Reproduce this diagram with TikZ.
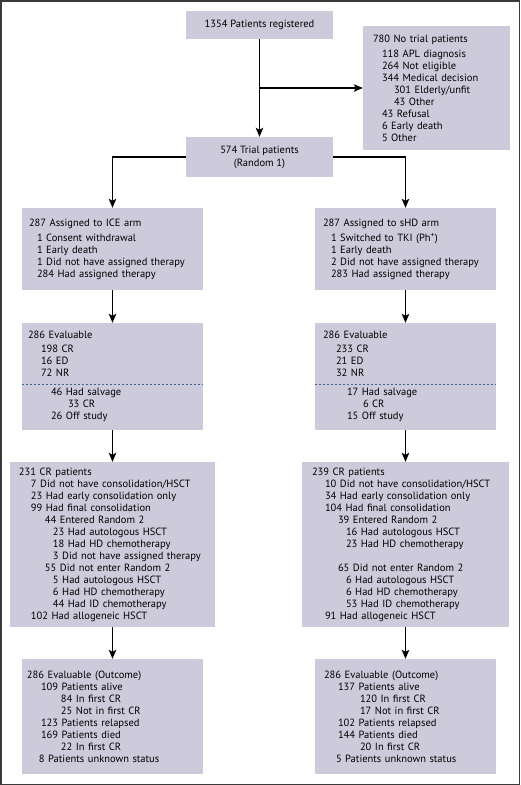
\documentclass[tikz,border=0pt]{standalone}
\usepackage{fontspec}
\setmainfont{PT Sans}
\usetikzlibrary{
  arrows.meta,
  positioning,
  calc
}
\definecolor{boxfill}{HTML}{CCCADB}
\definecolor{dashblue}{HTML}{3E6590}
\definecolor{framegray}{HTML}{3A3A3A}
\newcommand{\ind}[1]{\hspace*{#1pt}}
\hyphenpenalty=10000

\begin{document}
\begin{tikzpicture}[
  x=1pt, y=-1pt,
  flowbox/.style={fill=boxfill, align=left, inner ysep=0pt,
    font=\fontsize{10.5}{12}\selectfont},
  flowline/.style={draw=black, line width=1.2pt,
    -{Stealth[length=9pt, width=7.5pt, inset=2pt]}},
  dashsep/.style={draw=dashblue, line width=0.6pt, dash pattern=on 2.5pt off 1.5pt}
]
  \useasboundingbox (0,0) rectangle (520,785);
  \draw[framegray, line width=1.5pt] (0.75,0.75) rectangle (519.25,784.25);

  \node[flowbox, align=center, minimum width=147pt, minimum height=28pt] (reg) at (259.5,25)
    {1354 Patients registered};
  \node[flowbox, text width=127pt, inner xsep=10pt, minimum height=124pt] (notrial) at (436.5,88)
    {780 No trial patients\\[3pt]
     \ind{9}118 APL diagnosis\\ \ind{9}264 Not eligible\\ \ind{9}344 Medical decision\\
     \ind{21}301 Elderly/unfit\\ \ind{21}43 Other\\ \ind{9}43 Refusal\\
     \ind{9}6 Early death\\ \ind{9}5 Other};
  \node[flowbox, align=center, minimum width=147pt, minimum height=40pt] (trial) at (259.5,157)
    {574 Trial patients\\[1pt](Random 1)};

  \node[flowbox, text width=167pt, inner xsep=7pt, minimum height=82pt] (ice) at (112.5,249)
    {287 Assigned to ICE arm\\[3pt]
     \ind{8}1 Consent withdrawal\\ \ind{8}1 Early death\\
     \ind{8}1 Did not have assigned therapy\\ \ind{8}284 Had assigned therapy};
  \node[flowbox, text width=165pt, inner xsep=8pt, minimum height=82pt] (shd) at (405.5,249)
    {287 Assigned to sHD arm\\[3pt]
     \ind{8}1 Switched to TKI (Ph\textsuperscript{+})\\ \ind{8}1 Early death\\
     \ind{8}2 Did not have assigned therapy\\ \ind{8}283 Had assigned therapy};

  \node[flowbox, text width=169pt, inner xsep=6pt, minimum height=107pt] (evalice) at (112.5,376.5)
    {286 Evaluable\\[2pt]
     \ind{13}198 CR\\ \ind{13}16 ED\\ \ind{13}72 NR\\[7pt]
     \ind{23}46 Had salvage\\ \ind{40}33 CR\\ \ind{23}26 Off study};
  \node[flowbox, text width=165pt, inner xsep=8pt, minimum height=107pt] (evalshd) at (405.5,376.5)
    {286 Evaluable\\[2pt]
     \ind{13}233 CR\\ \ind{13}21 ED\\ \ind{13}32 NR\\[7pt]
     \ind{24}17 Had salvage\\ \ind{40}6 CR\\ \ind{24}15 Off study};
  \draw[dashsep] ([yshift=46pt]evalice.south west) -- ([yshift=46pt]evalice.south east);
  \draw[dashsep] ([yshift=46pt]evalshd.south west) -- ([yshift=46pt]evalshd.south east);

  \node[flowbox, text width=187pt, inner xsep=9pt, minimum height=165pt] (crice) at (112.5,544.5)
    {231 CR patients\\
     \ind{12}7 Did not have consolidation/HSCT\\ \ind{12}23 Had early consolidation only\\
     \ind{12}99 Had final consolidation\\
     \ind{26}44 Entered Random 2\\
     \ind{34}23 Had autologous HSCT\\ \ind{34}18 Had HD chemotherapy\\
     \ind{34}3 Did not have assigned therapy\\
     \ind{26}55 Did not enter Random 2\\
     \ind{34}5 Had autologous HSCT\\ \ind{34}6 Had HD chemotherapy\\
     \ind{34}44 Had ID chemotherapy\\
     \ind{12}102 Had allogeneic HSCT};
  \node[flowbox, text width=187pt, inner xsep=10pt, minimum height=165pt] (crshd) at (405.5,544.5)
    {239 CR patients\\
     \ind{13}10 Did not have consolidation/HSCT\\ \ind{13}34 Had early consolidation only\\
     \ind{13}104 Had final consolidation\\
     \ind{26}39 Entered Random 2\\
     \ind{34}16 Had autologous HSCT\\ \ind{34}23 Had HD chemotherapy\\[12pt]
     \ind{26}65 Did not enter Random 2\\
     \ind{34}6 Had autologous HSCT\\ \ind{34}6 Had HD chemotherapy\\
     \ind{34}53 Had ID chemotherapy\\
     \ind{13}91 Had allogeneic HSCT};

  \node[flowbox, text width=171pt, inner xsep=5pt, minimum height=115pt] (outice) at (112.5,716.5)
    {286 Evaluable (Outcome)\\
     \ind{14}109 Patients alive\\ \ind{34}84 In first CR\\ \ind{34}25 Not in first CR\\
     \ind{14}123 Patients relapsed\\ \ind{14}169 Patients died\\ \ind{34}22 In first CR\\
     \ind{12}8 Patients unknown status};
  \node[flowbox, text width=163pt, inner xsep=9pt, minimum height=115pt] (outshd) at (405.5,716.5)
    {286 Evaluable (Outcome)\\
     \ind{14}137 Patients alive\\ \ind{36}120 In first CR\\ \ind{36}17 Not in first CR\\
     \ind{14}102 Patients relapsed\\ \ind{14}144 Patients died\\ \ind{36}20 In first CR\\
     \ind{12}5 Patients unknown status};

  \coordinate (split) at ($(reg.south)!0.5!(trial.north)$);
  \draw[flowline] (reg) -- (trial);
  \draw[flowline] (split) -- (split -| notrial.west);
  \draw[flowline] (trial.west) -| (ice.north);
  \draw[flowline] (trial.east) -| (shd.north);
  \draw[flowline] (ice) -- (evalice);
  \draw[flowline] (shd) -- (evalshd);
  \draw[flowline] (evalice) -- (crice);
  \draw[flowline] (evalshd) -- (crshd);
  \draw[flowline] (crice) -- (outice);
  \draw[flowline] (crshd) -- (outshd);

\end{tikzpicture}
\end{document}
